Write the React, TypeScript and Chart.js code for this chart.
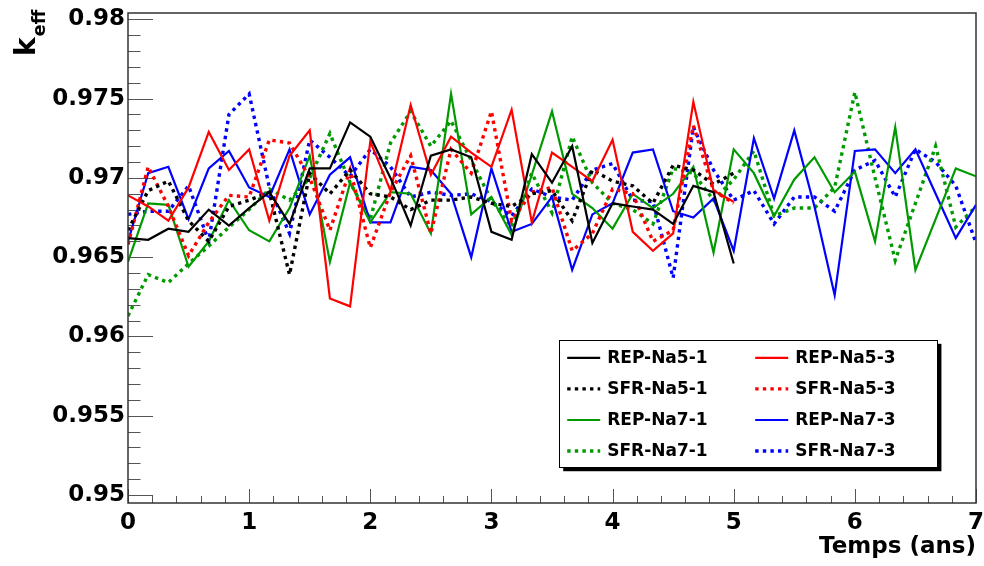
import React, { useEffect, useRef } from 'react';
import { Chart, registerables } from 'chart.js';
Chart.register(...registerables);

// Temps en mois (pas de 2 mois)
const moisNa5 = [0, 2, 4, 6, 8, 10, 12, 14, 16, 18, 20, 22, 24, 26, 28, 30, 32, 34, 36, 38, 40, 42, 44, 46, 48, 50, 52, 54, 56, 58, 60];
const moisNa7 = [0, 2, 4, 6, 8, 10, 12, 14, 16, 18, 20, 22, 24, 26, 28, 30, 32, 34, 36, 38, 40, 42, 44, 46, 48, 50, 52, 54, 56, 58, 60, 62, 64, 66, 68, 70, 72, 74, 76, 78, 80, 82, 84];

const repNa5_1 = [0.9662, 0.9661, 0.9668, 0.9666, 0.9680, 0.9670, 0.9681, 0.9691, 0.9671, 0.9706, 0.9706, 0.9735, 0.9726, 0.9700, 0.9670, 0.9714, 0.9718, 0.9713, 0.9666, 0.9661, 0.9715, 0.9697, 0.9720, 0.9659, 0.9684, 0.9682, 0.9680, 0.9671, 0.9695, 0.9691, 0.9646];
const sfrNa5_1 = [0.9667, 0.9692, 0.9698, 0.9673, 0.9660, 0.9682, 0.9686, 0.9691, 0.9639, 0.9703, 0.9690, 0.9705, 0.9690, 0.9688, 0.9680, 0.9686, 0.9686, 0.9688, 0.9684, 0.9682, 0.9690, 0.9692, 0.9673, 0.9705, 0.9698, 0.9695, 0.9684, 0.9708, 0.9705, 0.9696, 0.9703];
const repNa5_3 = [0.9689, 0.9682, 0.9673, 0.9694, 0.9729, 0.9705, 0.9718, 0.9673, 0.9714, 0.9730, 0.9624, 0.9619, 0.9723, 0.9692, 0.9746, 0.9702, 0.9726, 0.9716, 0.9707, 0.9743, 0.9672, 0.9716, 0.9707, 0.9698, 0.9724, 0.9666, 0.9654, 0.9665, 0.9748, 0.9692, 0.9685];
const sfrNa5_3 = [0.9658, 0.9707, 0.9682, 0.9651, 0.9672, 0.9689, 0.9688, 0.9724, 0.9722, 0.9700, 0.9667, 0.9705, 0.9656, 0.9691, 0.9714, 0.9665, 0.9718, 0.9703, 0.9742, 0.9673, 0.9691, 0.9694, 0.9654, 0.9665, 0.9693, 0.9690, 0.9660, 0.9667, 0.9733, 0.9692, 0.9684];
const repNa7_1 = [0.9647, 0.9684, 0.9683, 0.9644, 0.9660, 0.9686, 0.9667, 0.9660, 0.9681, 0.9714, 0.9647, 0.9697, 0.9672, 0.9691, 0.9690, 0.9665, 0.9753, 0.9677, 0.9688, 0.9664, 0.9702, 0.9742, 0.9690, 0.9681, 0.9668, 0.9690, 0.9681, 0.9690, 0.9707, 0.9653, 0.9718, 0.9703, 0.9676, 0.9699, 0.9713, 0.9691, 0.9704, 0.9660, 0.9732, 0.9642, 0.9674, 0.9706, 0.9701];
const sfrNa7_1 = [0.9613, 0.9639, 0.9634, 0.9646, 0.9657, 0.9669, 0.9680, 0.9693, 0.9686, 0.9700, 0.9728, 0.9697, 0.9674, 0.9722, 0.9742, 0.9720, 0.9736, 0.9711, 0.9686, 0.9669, 0.9703, 0.9678, 0.9726, 0.9697, 0.9684, 0.9680, 0.9671, 0.9706, 0.9703, 0.9686, 0.9699, 0.9717, 0.9676, 0.9681, 0.9681, 0.9694, 0.9754, 0.9700, 0.9648, 0.9684, 0.9720, 0.9669, 0.9682];
const repNa7_3 = [0.9660, 0.9703, 0.9707, 0.9674, 0.9706, 0.9717, 0.9694, 0.9688, 0.9718, 0.9677, 0.9702, 0.9713, 0.9672, 0.9672, 0.9707, 0.9705, 0.9690, 0.9650, 0.9706, 0.9666, 0.9671, 0.9688, 0.9642, 0.9677, 0.9684, 0.9716, 0.9718, 0.9679, 0.9675, 0.9687, 0.9654, 0.9725, 0.9687, 0.9730, 0.9682, 0.9626, 0.9717, 0.9718, 0.9703, 0.9718, 0.9690, 0.9662, 0.9683];
const sfrNa7_3 = [0.9677, 0.9679, 0.9679, 0.9695, 0.9660, 0.9740, 0.9753, 0.9694, 0.9665, 0.9724, 0.9713, 0.9701, 0.9718, 0.9707, 0.9688, 0.9691, 0.9689, 0.9690, 0.9685, 0.9676, 0.9693, 0.9688, 0.9686, 0.9705, 0.9709, 0.9686, 0.9685, 0.9637, 0.9732, 0.9705, 0.9686, 0.9692, 0.9671, 0.9688, 0.9688, 0.9679, 0.9705, 0.9711, 0.9688, 0.9718, 0.9710, 0.9695, 0.9659];

const yTickValues = [0.95, 0.955, 0.96, 0.965, 0.97, 0.975, 0.98];
const yTickLabels = ['0.95', '0.955', '0.96', '0.965', '0.97', '0.975', '0.98'];
const xTickValues = [0, 1, 2, 3, 4, 5, 6, 7];
const xTickLabels = ['0', '1', '2', '3', '4', '5', '6', '7'];

const xTitle = 'Temps (ans)';
const yTitleMain = 'k';
const yTitleSub = 'eff';

const BLACK = '#000000';
const RED = '#ff0000';
const GREEN = '#009a00';
const BLUE = '#0000ff';
const FONT = '"DejaVu Sans", "Liberation Sans", Arial, sans-serif';

type Serie = { label: string; mois: number[]; vals: number[]; color: string; dotted: boolean };
const series: Serie[] = [
  { label: 'REP-Na5-1', mois: moisNa5, vals: repNa5_1, color: BLACK, dotted: false },
  { label: 'REP-Na5-3', mois: moisNa5, vals: repNa5_3, color: RED, dotted: false },
  { label: 'SFR-Na5-1', mois: moisNa5, vals: sfrNa5_1, color: BLACK, dotted: true },
  { label: 'SFR-Na5-3', mois: moisNa5, vals: sfrNa5_3, color: RED, dotted: true },
  { label: 'REP-Na7-1', mois: moisNa7, vals: repNa7_1, color: GREEN, dotted: false },
  { label: 'REP-Na7-3', mois: moisNa7, vals: repNa7_3, color: BLUE, dotted: false },
  { label: 'SFR-Na7-1', mois: moisNa7, vals: sfrNa7_1, color: GREEN, dotted: true },
  { label: 'SFR-Na7-3', mois: moisNa7, vals: sfrNa7_3, color: BLUE, dotted: true },
];

const SOLID_W = 2.2;
const DOT_W = 3.4;
const DOT_DASH = [3.4, 4.2];

const rootPlugin = {
  id: 'rootStyle',
  beforeDatasetsDraw(chart: any) {
    const { ctx, chartArea: ca, scales } = chart;
    const x = scales.x;
    const y = scales.y;
    ctx.save();
    ctx.strokeStyle = '#555';
    ctx.lineWidth = 1;
    ctx.beginPath();
    for (let k = 0; k <= 35; k++) {
      const v = k / 5;
      const px = Math.round(x.getPixelForValue(v)) + 0.5;
      const len = k % 5 === 0 ? 14 : 7;
      ctx.moveTo(px, ca.bottom);
      ctx.lineTo(px, ca.bottom - len);
    }
    for (let k = 0; k <= 30; k++) {
      const v = 0.95 + k * 0.001;
      const py = Math.round(y.getPixelForValue(v)) + 0.5;
      const len = k % 5 === 0 ? 25 : 12.5;
      ctx.moveTo(ca.left, py);
      ctx.lineTo(ca.left + len, py);
    }
    ctx.stroke();
    ctx.restore();
  },
  afterDatasetsDraw(chart: any) {
    const { ctx, chartArea: ca } = chart;
    ctx.save();
    ctx.strokeStyle = '#333';
    ctx.lineWidth = 1.5;
    ctx.strokeRect(ca.left, ca.top, ca.right - ca.left, ca.bottom - ca.top);

    ctx.fillStyle = '#000';
    ctx.translate(35, 56);
    ctx.rotate(-Math.PI / 2);
    ctx.textBaseline = 'alphabetic';
    ctx.textAlign = 'left';
    ctx.font = `bold 28px ${FONT}`;
    ctx.fillText(yTitleMain, 0, 0);
    const kw = ctx.measureText(yTitleMain).width;
    ctx.font = `bold 18px ${FONT}`;
    ctx.fillText(yTitleSub, kw + 1, 10);
    ctx.setTransform(1, 0, 0, 1, 0, 0);

    const w = ca.right - ca.left;
    const h = ca.bottom - ca.top;
    const bx = ca.left + 0.5085 * w;
    const by = ca.top + 0.667 * h;
    const bw = 0.446 * w;
    const bh = 0.26 * h;
    ctx.fillStyle = '#000';
    ctx.fillRect(bx + 4, by + 4, bw, bh);
    ctx.fillStyle = '#fff';
    ctx.fillRect(bx, by, bw, bh);
    ctx.strokeStyle = '#000';
    ctx.lineWidth = 1;
    ctx.strokeRect(Math.round(bx) + 0.5, Math.round(by) + 0.5, Math.round(bw), Math.round(bh));
    const rowH = bh / 4.1;
    const colOff = [8, 196];
    ctx.font = `bold 17px ${FONT}`;
    ctx.textBaseline = 'middle';
    ctx.textAlign = 'left';
    series.forEach((s, i) => {
      const col = i % 2;
      const row = Math.floor(i / 2);
      const cy = by + 18 + row * rowH;
      const lx = bx + colOff[col];
      ctx.beginPath();
      ctx.strokeStyle = s.color;
      ctx.lineWidth = s.dotted ? DOT_W : SOLID_W;
      ctx.setLineDash(s.dotted ? DOT_DASH : []);
      ctx.moveTo(lx, cy);
      ctx.lineTo(lx + 33, cy);
      ctx.stroke();
      ctx.setLineDash([]);
      ctx.fillStyle = '#000';
      ctx.fillText(s.label, lx + 40, cy + 1);
    });
    ctx.restore();
  },
};

export default function App() {
  const ref = useRef<HTMLCanvasElement>(null);
  useEffect(() => {
    if (!ref.current) return;
    const datasets = series.map((s) => ({
      label: s.label,
      data: s.mois.map((m, i) => ({ x: m / 12, y: s.vals[i] })),
      borderColor: s.color,
      backgroundColor: s.color,
      borderWidth: s.dotted ? DOT_W : SOLID_W,
      borderDash: s.dotted ? DOT_DASH : [],
      borderCapStyle: 'butt',
      borderJoinStyle: 'miter',
      pointRadius: 0,
      tension: 0,
      fill: false,
    }));
    const tickFont = { family: FONT, weight: 'bold', size: 23 };
    const chart = new Chart(ref.current, {
      type: 'line',
      data: { datasets } as any,
      options: {
        animation: false,
        responsive: false,
        devicePixelRatio: 1,
        layout: { padding: { left: 8, right: 8, top: 13, bottom: 0 } },
        plugins: { legend: { display: false }, tooltip: { enabled: false }, title: { display: false } },
        scales: {
          x: {
            type: 'linear',
            min: 0,
            max: 7,
            afterBuildTicks: (s: any) => { s.ticks = xTickValues.map((v) => ({ value: v })); },
            afterFit: (s: any) => { s.height = 63; s.paddingLeft = 0; s.paddingRight = 0; },
            grid: { display: false, drawTicks: false },
            border: { display: false },
            ticks: {
              autoSkip: false,
              maxRotation: 0,
              padding: 6,
              color: '#000',
              font: tickFont,
              callback: (_v: any, i: number) => xTickLabels[i],
            },
            title: {
              display: true,
              text: xTitle,
              align: 'end',
              color: '#000',
              font: { family: FONT, weight: 'bold', size: 23 },
              padding: { top: 0, bottom: 5 },
            },
          },
          y: {
            type: 'linear',
            min: 0.9495,
            max: 0.9804,
            afterBuildTicks: (s: any) => { s.ticks = yTickValues.map((v) => ({ value: v })); },
            afterFit: (s: any) => { s.width = 120; s.paddingTop = 0; s.paddingBottom = 0; },
            grid: { display: false, drawTicks: false },
            border: { display: false },
            ticks: {
              autoSkip: false,
              padding: 3,
              color: '#000',
              font: tickFont,
              callback: (_v: any, i: number) => yTickLabels[i],
            },
          },
        },
      } as any,
      plugins: [rootPlugin],
    });
    return () => chart.destroy();
  }, []);
  return (
    <div style={{ position: 'fixed', left: 0, top: 0, width: 984, height: 566, background: '#fff' }}>
      <canvas ref={ref} width={984} height={566} style={{ display: 'block' }} />
    </div>
  );
}
